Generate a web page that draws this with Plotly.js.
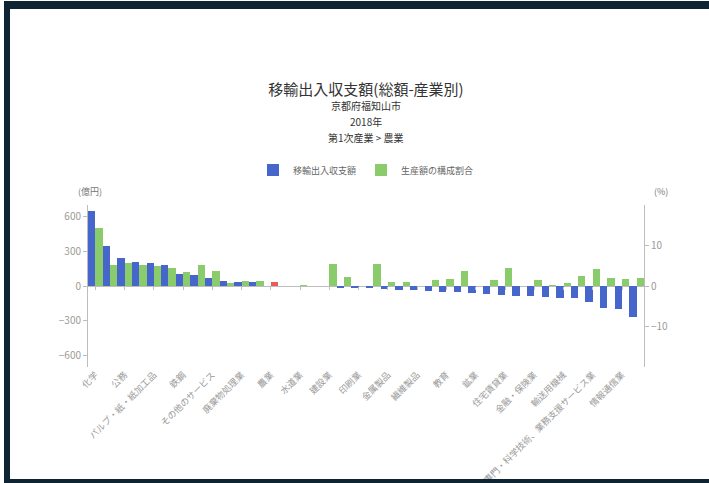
<!DOCTYPE html>
<html>
<head>
<meta charset="utf-8">
<script src="https://cdn.plot.ly/plotly-3.0.1.min.js"></script>
<style>
  html, body { margin: 0; padding: 0; background: #ffffff; overflow: hidden; }
  #chart { width: 709px; height: 483px; }
  #frame { position: absolute; left: 4px; top: 1px; width: 720px; height: 470px;
           border-left: 6px solid #0f2432; border-top: 8px solid #0f2432; border-bottom: 4px solid #0f2432;
           pointer-events: none; }
</style>
</head>
<body>
<div id="chart"></div>
<div id="frame"></div>
<script>
// Industries, sorted by net inflow/outflow (移輸出入収支額)
const categories = [
  "化学", "はん用・生産用・業務用機械", "公務", "食料品", "パルプ・紙・紙加工品",
  "電子部品・デバイス", "鉄鋼", "卸売業", "その他のサービス", "窯業・土石製品",
  "廃棄物処理業", "その他の不動産業", "農業", "林業", "水道業",
  "水産業", "建設業", "宿泊・飲食サービス業", "印刷業", "保健衛生・社会事業",
  "金属製品", "非鉄金属", "繊維製品", "その他の製造業", "教育",
  "運輸・郵便業", "鉱業", "電気機械", "住宅賃貸業", "石油・石炭製品",
  "金融・保険業", "情報・通信機器", "輸送用機械", "小売業", "専門・科学技術、業務支援サービス業",
  "電気業", "情報通信業", "ガス・熱供給業"
];
// 移輸出入収支額 (億円)
const netFlow = [
  650, 342, 240, 205, 196,
  185, 104, 98, 70, 46,
  32, 32, 1, 0, 0,
  0, -2, -15, -18, -21,
  -29, -32, -38, -46, -49,
  -55, -63, -66, -79, -85,
  -86, -97, -100, -101, -140,
  -190, -196, -266
];
// 生産額の構成割合 (%)
const shareOfProduction = [
  14.2, 5.3, 5.8, 5.2, 4.9,
  4.4, 3.5, 5.1, 3.7, 0.8,
  1.3, 1.3, 1.1, 0.0, 0.3,
  0.0, 5.4, 2.3, 0.0, 5.4,
  1.0, 1.0, 0.1, 1.4, 1.8,
  3.8, 0.0, 1.5, 4.4, 0.0,
  1.5, 0.2, 0.7, 2.5, 4.1,
  2.1, 1.8, 1.9
];
const highlighted = "農業";
const labelledTicks = categories.filter((c, i) => i % 2 === 0);

const BLUE = "#4766cc";
const GREEN = "#8acb6c";
const RED = "#ea5a5a";
const FONT = "Noto Sans CJK JP, Noto Sans, sans-serif";

const greenColors = categories.map(c => c === highlighted ? RED : GREEN);

const traces = [
  {
    type: "bar", name: "移輸出入収支額", x: categories, y: netFlow,
    xaxis: "x", yaxis: "y", offsetgroup: "a",
    marker: { color: BLUE }, hoverinfo: "x+y"
  },
  {
    type: "bar", name: "生産額の構成割合", x: categories, y: shareOfProduction,
    xaxis: "x", yaxis: "y2", offsetgroup: "b",
    marker: { color: greenColors }, hoverinfo: "x+y"
  },
  {
    type: "scatter", mode: "markers", x: categories, y: categories.map(() => null),
    xaxis: "x2", yaxis: "y", showlegend: false, hoverinfo: "skip"
  }
];

const axisGray = "#bdbdbd";
const tickGray = "#9a9a9a";

const layout = {
  width: 709, height: 483,
  paper_bgcolor: "#ffffff", plot_bgcolor: "#ffffff",
  font: { family: FONT, color: "#555" },
  margin: { l: 88, r: 65, t: 205, b: 116 },
  barmode: "group", bargap: 0, bargroupgap: 0,
  title: {
    text: "移輸出入収支額(総額-産業別)",
    font: { family: FONT, size: 15, color: "#333" },
    xref: "paper", x: 0.5, xanchor: "center",
    yref: "container", y: 1 - 90 / 483, yanchor: "middle"
  },
  showlegend: true,
  legend: {
    orientation: "h", x: 0.5, xanchor: "center", y: 1 + 35 / 162, yanchor: "middle",
    font: { family: FONT, size: 9, color: "#666" }, itemwidth: 30
  },
  xaxis: {
    type: "category", categoryorder: "array", categoryarray: categories,
    range: [-0.5, categories.length - 0.5],
    tickmode: "array", tickvals: labelledTicks, ticktext: labelledTicks,
    tickangle: -45, tickfont: { family: FONT, size: 9, color: tickGray },
    showline: false, ticks: "", showgrid: false, zeroline: false, fixedrange: true
  },
  xaxis2: {
    type: "category", categoryorder: "array", categoryarray: categories,
    range: [-0.5, categories.length - 0.5],
    overlaying: "x", anchor: "free", position: 0.5, side: "bottom",
    tickmode: "array", tickvals: labelledTicks,
    ticks: "outside", ticklen: 3, tickcolor: axisGray, showticklabels: false,
    showline: false, showgrid: false, zeroline: false
  },
  yaxis: {
    range: [-700, 700], tickvals: [-600, -300, 0, 300, 600],
    showline: true, linecolor: axisGray, linewidth: 1,
    ticks: "outside", ticklen: 4, tickcolor: axisGray,
    tickfont: { family: FONT, size: 10, color: tickGray },
    showgrid: false, zeroline: true, zerolinecolor: axisGray, zerolinewidth: 1
  },
  yaxis2: {
    range: [-20, 20], tickvals: [-10, 0, 10], overlaying: "y", side: "right",
    showline: true, linecolor: axisGray, linewidth: 1,
    ticks: "outside", ticklen: 4, tickcolor: axisGray,
    tickfont: { family: FONT, size: 10, color: tickGray },
    showgrid: false, zeroline: false
  },
  annotations: [
    { text: "京都府福知山市", xref: "paper", yref: "paper", x: 0.5, y: 1 + 99 / 162,
      xanchor: "center", yanchor: "middle", showarrow: false, font: { family: FONT, size: 10, color: "#333" } },
    { text: "2018年", xref: "paper", yref: "paper", x: 0.5, y: 1 + 83 / 162,
      xanchor: "center", yanchor: "middle", showarrow: false, font: { family: FONT, size: 10, color: "#333" } },
    { text: "第1次産業 > 農業", xref: "paper", yref: "paper", x: 0.5, y: 1 + 68 / 162,
      xanchor: "center", yanchor: "middle", showarrow: false, font: { family: FONT, size: 10, color: "#333" } },
    { text: "(億円)", xref: "paper", yref: "paper", x: 0.004, y: 1 + 14 / 162,
      xanchor: "center", yanchor: "middle", showarrow: false, font: { family: FONT, size: 9, color: "#777" } },
    { text: "(%)", xref: "paper", yref: "paper", x: 1.03, y: 1 + 14 / 162,
      xanchor: "center", yanchor: "middle", showarrow: false, font: { family: FONT, size: 9, color: "#777" } }
  ]
};

Plotly.newPlot("chart", traces, layout, { displayModeBar: false, staticPlot: true });
</script>
</body>
</html>
